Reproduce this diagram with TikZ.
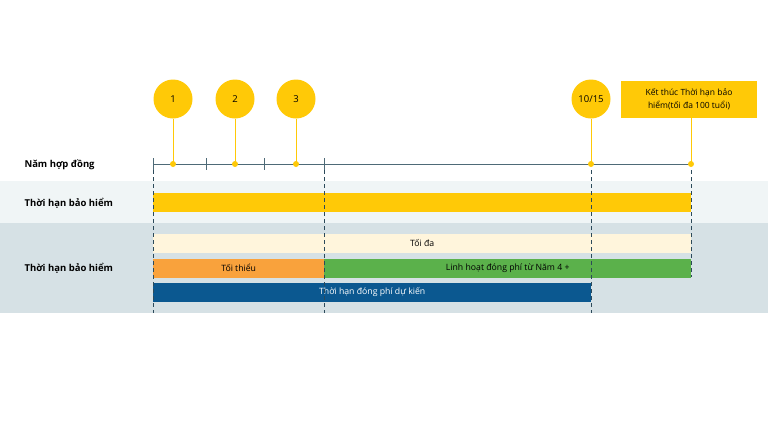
\documentclass[tikz,border=0pt]{standalone}
\usepackage{fontspec}
\setmainfont{Open Sans}
\definecolor{gold}{HTML}{FFC907}
\definecolor{cream}{HTML}{FFF5DC}
\definecolor{tangerine}{HTML}{F9A23C}
\definecolor{leaf}{HTML}{5BB14B}
\definecolor{navy}{HTML}{0B5890}
\definecolor{bandlight}{HTML}{F0F5F6}
\definecolor{banddark}{HTML}{D6E1E5}
\definecolor{slate}{HTML}{4E6A77}
\definecolor{ink}{HTML}{2C4A5A}
\begin{document}
\begin{tikzpicture}[x=1pt,y=-1pt,
  rowlabel/.style={anchor=west, font=\fontsize{9.5}{11}\selectfont\bfseries, text=black},
  bar/.style={anchor=west, minimum height=19pt, inner sep=0pt, font=\fontsize{8.7}{10}\selectfont},
  marker/.style={circle, fill=gold, minimum size=39pt, inner sep=0pt, font=\fontsize{9.5}{11}\selectfont},
  pin/.style={draw=gold, line width=1pt},
  guide/.style={draw=ink, line width=0.8pt, dash pattern=on 4pt off 3pt}]
\useasboundingbox (0,0) rectangle (768,432);
% background bands
\fill[bandlight] (0,181) rectangle (768,223);
\fill[banddark] (0,223) rectangle (768,313);
% row labels
\node[rowlabel] (lyear) at (21,165) {Năm hợp đồng};
\node[rowlabel] (lcover) at (21,203) {Thời hạn bảo hiểm};
\node[rowlabel] (lpay) at (21,268) {Thời hạn bảo hiểm};
% bars
\node[bar, fill=gold, minimum width=538pt] (cover) at (153,202.5) {};
\node[bar, fill=cream, minimum width=538pt] (maxi) at (153,243.5) {Tối đa};
\node[bar, fill=tangerine, minimum width=171pt] (mini) at (153,268) {Tối thiểu};
\node[bar, fill=leaf, minimum width=367pt] (flex) at (324,268) {Linh hoạt đóng phí từ Năm 4 +};
\node[bar, fill=navy, text=white, minimum width=438pt] (plan) at (153,292.5) {Thời hạn đóng phí dự kiến};
% guides
\draw[guide] (153,170) -- (153,313);
\draw[guide] (324,170) -- (324,313);
\draw[guide] (591,170) -- (591,313);
\draw[guide] (691,170) -- (691,277);
% timeline
\draw[slate, line width=1pt] (153,164) -- (691,164);
\foreach \x in {153,206,264,324} \draw[slate, line width=1pt] (\x,158) -- (\x,170);
% markers
\coordinate (t1) at (173,164);
\coordinate (t2) at (235,164);
\coordinate (t3) at (296,164);
\coordinate (t4) at (591,164);
\coordinate (t5) at (691,164);
\node[marker] (c1) at (173,99) {1};
\node[marker] (c2) at (235,99) {2};
\node[marker] (c3) at (296,99) {3};
\node[marker] (c4) at (591,99) {10/15};
\node[fill=gold, minimum width=136pt, minimum height=37pt, align=center, inner sep=0pt,
  font=\fontsize{8.5}{13}\selectfont] (fin) at (689,99.5) {Kết thúc Thời hạn bảo\\hiểm(tối đa 100 tuổi)};
\foreach \i in {1,...,4} \draw[pin] (c\i) -- (t\i);
\draw[pin] (fin.south -| t5) -- (t5);
\foreach \i in {1,...,5} \fill[gold] (t\i) circle (3pt);
\end{tikzpicture}
\end{document}
